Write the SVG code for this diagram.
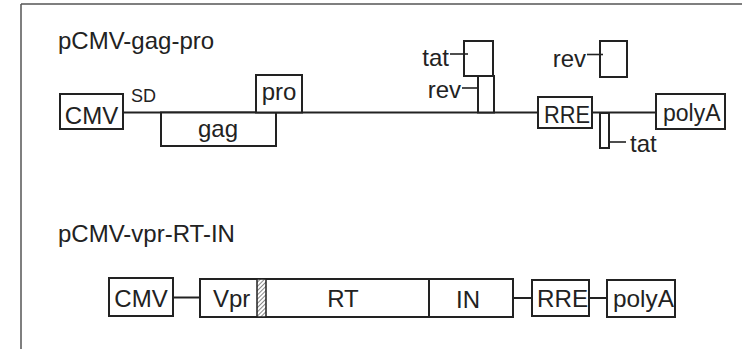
<svg xmlns="http://www.w3.org/2000/svg" width="742" height="349" viewBox="0 0 742 349">
<defs>
<style>
.box{fill:#fff;stroke:#222;stroke-width:2}
.ln{stroke:#222;stroke-width:2;fill:none}
.tk{stroke:#222;stroke-width:1.6;fill:none}
text{font-family:"Liberation Sans",Arial,sans-serif;fill:#222}
.lb{font-size:24px}
.c{text-anchor:middle}
.e{text-anchor:end}
</style>
<pattern id="hatch" width="3" height="3" patternUnits="userSpaceOnUse" patternTransform="rotate(45)">
<rect width="3" height="3" fill="#fff"/>
<line x1="0" y1="0" x2="0" y2="3" stroke="#555" stroke-width="1.4"/>
</pattern>
</defs>
<rect width="742" height="349" fill="#fff"/>
<g id="frame" stroke="#555" stroke-width="1.5" fill="none">
<line x1="21" y1="4" x2="742" y2="4"/>
<line x1="21" y1="4" x2="21" y2="349"/>
</g>
<text x="58" y="49" class="lb">pCMV-gag-pro</text>
<text x="58" y="242" class="lb">pCMV-vpr-RT-IN</text>
<g id="connectors">
<line class="ln" x1="123" y1="112.5" x2="538" y2="112.5"/>
<line class="ln" x1="592" y1="112.5" x2="656" y2="112.5"/>
<line class="ln" x1="173" y1="297.5" x2="200" y2="297.5"/>
<line class="ln" x1="513" y1="298" x2="532" y2="298"/>
<line class="ln" x1="589" y1="298" x2="607" y2="298"/>
</g>
<g id="top-cmv"><rect class="box" x="60" y="94" width="63" height="35"/><text x="91.5" y="124" class="lb c">CMV</text></g>
<g id="top-sd"><text x="131" y="102" font-size="18">SD</text></g>
<g id="top-gag"><rect class="box" x="161" y="112.5" width="115" height="33.5"/><text x="218" y="137" class="lb c">gag</text></g>
<g id="top-pro"><rect class="box" x="256" y="75" width="46" height="37.5"/><text x="279" y="100" class="lb c">pro</text></g>
<g id="top-tat1"><rect class="box" x="464" y="41" width="29" height="35"/><line class="tk" x1="450" y1="54" x2="468" y2="54"/><text x="449" y="66" class="lb e">tat</text></g>
<g id="top-rev1"><rect class="box" x="478" y="76" width="16" height="36.5"/><line class="tk" x1="462" y1="88" x2="478" y2="88"/><text x="461" y="98" class="lb e">rev</text></g>
<g id="top-rev2"><rect class="box" x="600" y="41" width="27" height="36"/><line class="tk" x1="587" y1="54.5" x2="603" y2="54.5"/><text x="586" y="67" class="lb e">rev</text></g>
<g id="top-rre"><rect class="box" x="538" y="97" width="54" height="31"/><text x="544" y="123" class="lb" textLength="46" lengthAdjust="spacingAndGlyphs">RRE</text></g>
<g id="top-tat2"><rect class="box" x="600" y="113" width="9" height="35"/><line class="tk" x1="609" y1="142" x2="626" y2="142"/><text x="630" y="152" class="lb">tat</text></g>
<g id="top-polya"><rect class="box" x="656" y="94" width="69" height="35"/><text x="663" y="121" font-size="23">polyA</text></g>
<g id="bot-cmv"><rect class="box" x="109" y="278" width="64" height="38"/><text x="141" y="307" class="lb c">CMV</text></g>
<g id="bot-vpr-rt-in">
<rect class="box" x="200" y="279" width="313" height="38"/>
<rect x="257" y="279" width="9" height="38" fill="url(#hatch)" stroke="#222" stroke-width="1.5"/>
<line class="ln" x1="429" y1="279" x2="429" y2="317"/>
<text x="213" y="307" class="lb">Vpr</text>
<text x="343" y="307" class="lb c">RT</text>
<text x="468" y="308" class="lb c">IN</text>
</g>
<g id="bot-rre"><rect class="box" x="532" y="280" width="57" height="36"/><text x="537" y="307" class="lb" textLength="51" lengthAdjust="spacingAndGlyphs">RRE</text></g>
<g id="bot-polya"><rect class="box" x="607" y="280" width="68" height="37"/><text x="613" y="307" class="lb" textLength="61" lengthAdjust="spacingAndGlyphs">polyA</text></g>
</svg>
